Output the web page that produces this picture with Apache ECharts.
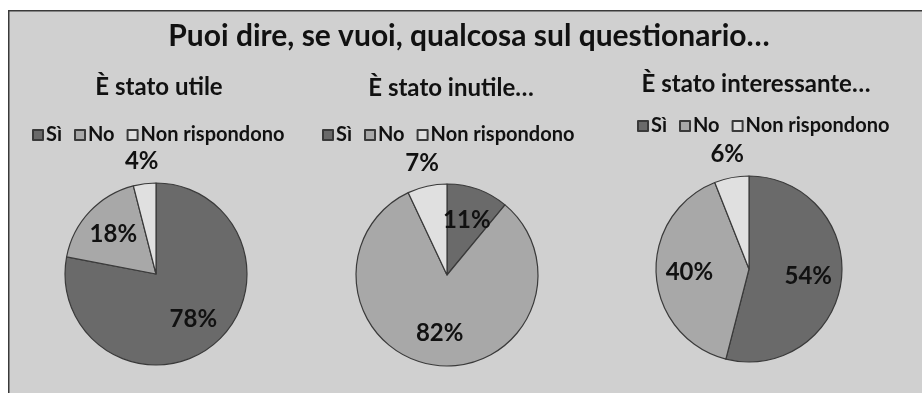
<!DOCTYPE html>
<html>
<head>
<meta charset="utf-8">
<script src="https://cdn.jsdelivr.net/npm/echarts@6/dist/echarts.min.js"></script>
<style>
html,body{margin:0;padding:0;background:#fff;}
#chart{width:922px;height:393px;}
</style>
</head>
<body>
<div id="chart"></div>
<script>
// ---- data ----
const categories = ['Sì', 'No', 'Non rispondono'];
const utileValues = [78, 18, 4];
const inutileValues = [11, 82, 7];
const interessanteValues = [54, 40, 6];
const mainTitle = 'Puoi dire, se vuoi, qualcosa sul questionario…';
const subTitles = ['È stato utile', 'È stato inutile…', 'È stato interessante…'];
const outsideLabels = ['Non rispondono']; // labels drawn outside the pie

// ---- style ----
const FONT = 'Lato';
const sliceColors = ['#6a6a6a', '#a8a8a8', '#e0e0e0'];
const borderColor = '#3a3a3a';
const textColor = '#111';

const pies = [
  { values: utileValues, center: [156, 274], r: 91, titleX: 159, titleTop: 75, legendLeft: 32, legendTop: 125 },
  { values: inutileValues, center: [447, 275], r: 91, titleX: 451, titleTop: 76, legendLeft: 322, legendTop: 125 },
  { values: interessanteValues, center: [749, 269], r: 93, titleX: 756, titleTop: 72, legendLeft: 637, legendTop: 116 }
];

function mkData(values) {
  return categories.map((c, i) => ({ name: c, value: values[i], itemStyle: { color: sliceColors[i] } }));
}

const labelStyle = { fontFamily: FONT, fontWeight: 'bold', fontSize: 24, color: textColor };

const series = [];
pies.forEach(p => {
  series.push({
    type: 'pie', center: p.center, radius: [0, p.r],
    startAngle: 90, clockwise: true,
    data: mkData(p.values),
    itemStyle: { borderColor: borderColor, borderWidth: 1.2 },
    label: { show: false }, labelLine: { show: false },
    emphasis: { disabled: true }, silent: true, animation: false
  });
});
pies.forEach(p => {
  // inside labels
  series.push({
    type: 'pie', center: p.center, radius: [0, p.r * 1.22],
    startAngle: 90, clockwise: true, avoidLabelOverlap: false,
    data: categories.map((c, i) => ({ name: c, value: p.values[i],
      label: { show: outsideLabels.indexOf(c) < 0 } })),
    itemStyle: { color: 'rgba(0,0,0,0)', borderWidth: 0 },
    label: Object.assign({ position: 'inside', formatter: '{c}%' }, labelStyle),
    labelLine: { show: false }, legendHoverLink: false,
    emphasis: { disabled: true }, silent: true, animation: false
  });
  // outside labels
  series.push({
    type: 'pie', center: p.center, radius: [0, p.r * 2.44],
    startAngle: 90, clockwise: true, avoidLabelOverlap: false,
    data: categories.map((c, i) => ({ name: c, value: p.values[i],
      label: { show: outsideLabels.indexOf(c) >= 0 } })),
    itemStyle: { color: 'rgba(0,0,0,0)', borderWidth: 0 },
    label: Object.assign({ position: 'inside', formatter: '{c}%' }, labelStyle),
    labelLine: { show: false }, legendHoverLink: false,
    emphasis: { disabled: true }, silent: true, animation: false
  });
});

const titles = [{
  text: mainTitle, left: 469, top: 21, textAlign: 'center', padding: 0,
  textStyle: { fontFamily: FONT, fontWeight: 'bold', fontSize: 30, color: textColor }
}];
pies.forEach((p, i) => titles.push({
  text: subTitles[i], left: p.titleX, top: p.titleTop, textAlign: 'center', padding: 0,
  textStyle: { fontFamily: FONT, fontWeight: 'bold', fontSize: 24, color: textColor }
}));

const legends = pies.map(p => ({
  data: categories, left: p.legendLeft, top: p.legendTop, orient: 'horizontal', padding: 0,
  icon: 'rect', itemWidth: 10, itemHeight: 10, itemGap: 12, selectedMode: false,
  textStyle: { fontFamily: FONT, fontWeight: 'bold', fontSize: 20, color: textColor, padding: [0, 0, 0, -2] }
}));

const chart = echarts.init(document.getElementById('chart'), null, { renderer: 'canvas' });
chart.setOption({
  backgroundColor: '#ffffff',
  animation: false,
  graphic: [{
    type: 'rect', left: 8, top: 10, z: -10, silent: true,
    shape: { width: 940, height: 420 },
    style: { fill: '#d0d0d0', stroke: '#3a3a3a', lineWidth: 1.5 }
  }],
  title: titles,
  legend: legends,
  series: series
});
</script>
</body>
</html>
